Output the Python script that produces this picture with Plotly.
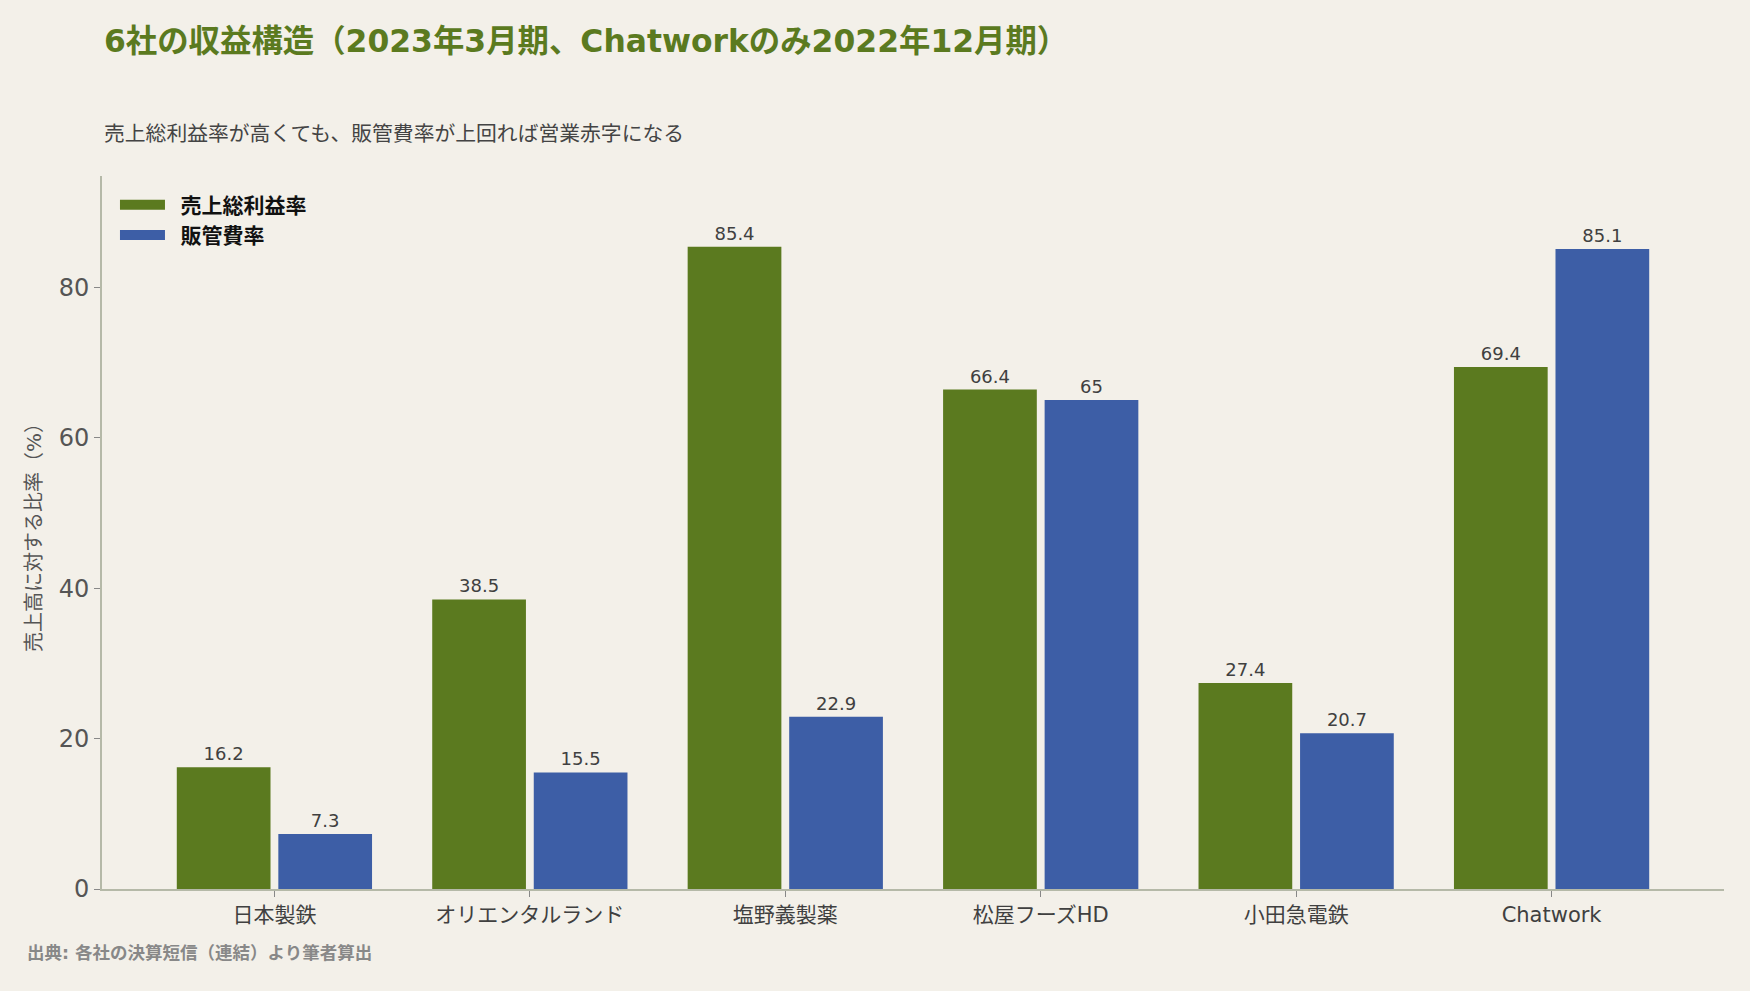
import plotly.graph_objects as go

companies = ['日本製鉄', 'オリエンタルランド', '塩野義製薬', '松屋フーズHD', '小田急電鉄', 'Chatwork']
gross_margin = [16.2, 38.5, 85.4, 66.4, 27.4, 69.4]
sga_ratio = [7.3, 15.5, 22.9, 65, 20.7, 85.1]
series_names = ['売上総利益率', '販管費率']
y_ticks = [0, 20, 40, 60, 80]

GREEN = '#5b7a1f'
BLUE = '#3d5ea6'
BG = '#f3f0e9'
FONT = 'DejaVu Sans, Noto Sans CJK JP'

fig = go.Figure()

for name, vals, color in zip(series_names, [gross_margin, sga_ratio], [GREEN, BLUE]):
    fig.add_trace(go.Bar(
        x=companies,
        y=vals,
        name=name,
        marker=dict(color=color, line=dict(width=0)),
        text=[f'{v:g}' for v in vals],
        textposition='outside',
        cliponaxis=False,
        textfont=dict(family=FONT, size=18, color='#404040'),
        showlegend=False,
    ))
    # legend swatch as a thick line so it looks like a wide rectangle
    fig.add_trace(go.Scatter(
        x=[None], y=[None],
        mode='lines',
        line=dict(color=color, width=14),
        name='\u2002' + name,
        showlegend=True,
    ))

fig.update_layout(
    width=1750,
    height=991,
    paper_bgcolor=BG,
    plot_bgcolor=BG,
    font=dict(family=FONT, color='#444444'),
    barmode='group',
    bargap=0.205,
    bargroupgap=0.077,
    margin=dict(l=102, r=26, t=176, b=102),
    title=dict(
        text='6社の収益構造（2023年3月期、Chatworkのみ2022年12月期）',
        x=104 / 1750, xanchor='left',
        y=1 - 41 / 991, yanchor='middle',
        font=dict(family=FONT, size=31.4, color=GREEN, weight='bold'),
    ),
    legend=dict(
        x=0.008, y=0.988, xanchor='left', yanchor='top',
        bgcolor='rgba(0,0,0,0)',
        font=dict(family=FONT, size=21, color='#111111', weight='bold'),
        itemwidth=45,
    ),
    xaxis=dict(
        range=[-0.675, 5.675],
        showline=True, linecolor='#b5b9a8', linewidth=2,
        ticks='outside', ticklen=6, tickcolor='#888888',
        tickfont=dict(family=FONT, size=21, color='#404040'),
        showgrid=False, zeroline=False,
    ),
    yaxis=dict(
        range=[0, 85.4 * 1.11],
        tickvals=y_ticks,
        showline=True, linecolor='#b5b9a8', linewidth=2,
        ticks='outside', ticklen=6, tickcolor='#888888',
        tickfont=dict(family=FONT, size=24, color='#555555'),
        showgrid=False, zeroline=False,
        title=dict(text='売上高に対する比率（%）',
                   font=dict(family=FONT, size=20, color='#555555'),
                   standoff=12),
    ),
    annotations=[
        dict(text='売上総利益率が高くても、販管費率が上回れば営業赤字になる',
             xref='paper', yref='paper',
             x=(102 - 102) / 1622, y=(889 - 134) / 713,
             xanchor='left', yanchor='middle', showarrow=False,
             font=dict(family=FONT, size=20.8, color='#444444')),
        dict(text='出典: 各社の決算短信（連結）より筆者算出',
             xref='paper', yref='paper',
             x=(25 - 102) / 1622, y=(889 - 953) / 713,
             xanchor='left', yanchor='middle', showarrow=False,
             font=dict(family=FONT, size=17.5, color='#888888', weight='bold')),
    ],
)

fig.write_html(
    'out.html',
    config={'displayModeBar': False},
    post_script="document.body.style.margin='0';document.body.style.background='#f3f0e9';",
)
